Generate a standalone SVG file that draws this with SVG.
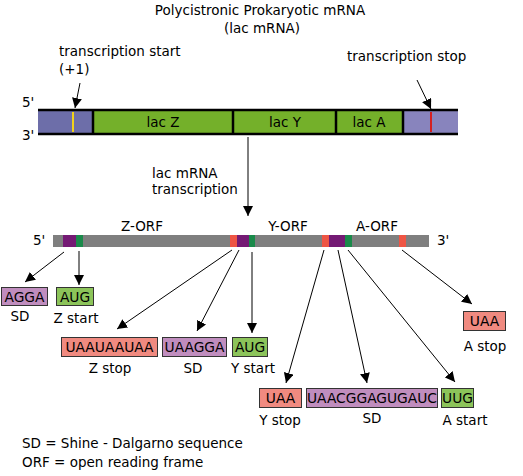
<svg xmlns="http://www.w3.org/2000/svg" width="523" height="476" viewBox="0 0 523 476">
<defs>
<style>
text{font-family:"DejaVu Sans","Liberation Sans",Arial,sans-serif;font-size:13.5px;fill:#000}
.c{text-anchor:middle}
.bx{font-size:13.8px}
.ln{stroke:#000;stroke-width:1;fill:none}
.red{fill:#f08a80;stroke:#333;stroke-width:1}
.pur{fill:#c08dbe;stroke:#333;stroke-width:1}
.grn{fill:#8cc45a;stroke:#333;stroke-width:1}
</style>
<marker id="ah" viewBox="0 0 10 10" refX="10" refY="5" markerWidth="10" markerHeight="10" markerUnits="userSpaceOnUse" orient="auto">
<path d="M0,0 L10,5 L0,10 z" fill="#000"/>
</marker>
</defs>
<rect width="523" height="476" fill="#fff"/>

<g id="title">
<text class="c" x="260" y="15">Polycistronic Prokaryotic mRNA</text>
<text class="c" x="262" y="33">(lac mRNA)</text>
</g>

<g id="dna">
<rect x="38" y="110" width="55" height="24" fill="#6d6ea9"/>
<rect x="93" y="110" width="140" height="24" fill="#74b02a"/>
<rect x="233" y="110" width="103" height="24" fill="#74b02a"/>
<rect x="336" y="110" width="67" height="24" fill="#74b02a"/>
<rect x="403" y="110" width="55" height="24" fill="#8884bd"/>
<line x1="38" y1="110" x2="458" y2="110" stroke="#000" stroke-width="2.5"/>
<line x1="38" y1="134" x2="458" y2="134" stroke="#000" stroke-width="2.5"/>
<line x1="93" y1="110" x2="93" y2="134" stroke="#000" stroke-width="2.5"/>
<line x1="233" y1="110" x2="233" y2="134" stroke="#000" stroke-width="2.5"/>
<line x1="336" y1="110" x2="336" y2="134" stroke="#000" stroke-width="2.5"/>
<line x1="403" y1="110" x2="403" y2="134" stroke="#000" stroke-width="2.5"/>
<line x1="73" y1="112" x2="73" y2="132" stroke="#f2d21a" stroke-width="2"/>
<line x1="431" y1="112" x2="431" y2="132" stroke="#d42020" stroke-width="2"/>
<text class="c" x="163" y="127">lac Z</text>
<text class="c" x="285" y="127">lac Y</text>
<text class="c" x="369" y="127">lac A</text>
<text x="22" y="107">5'</text>
<text x="22" y="140">3'</text>
</g>

<g id="tx-start">
<text x="59" y="56">transcription start</text>
<text x="59" y="74">(+1)</text>
</g>
<g id="tx-stop">
<text x="347" y="61">transcription stop</text>
</g>
<g id="tx-label">
<text x="152" y="178">lac mRNA</text>
<text x="152" y="194">transcription</text>
</g>

<g id="mrna">
<rect x="53" y="235" width="376" height="12" fill="#7f7f7f"/>
<rect x="63" y="235" width="13" height="12" fill="#741a74"/>
<rect x="76" y="235" width="7" height="12" fill="#1a8a4a"/>
<rect x="230" y="235" width="7" height="12" fill="#ee5544"/>
<rect x="237" y="235" width="12" height="12" fill="#741a74"/>
<rect x="249" y="235" width="6" height="12" fill="#1a8a4a"/>
<rect x="322" y="235" width="7" height="12" fill="#ee5544"/>
<rect x="329" y="235" width="16" height="12" fill="#741a74"/>
<rect x="345" y="235" width="7" height="12" fill="#1a8a4a"/>
<rect x="399" y="235" width="7" height="12" fill="#ee5544"/>
<text x="33" y="245">5'</text>
<text x="437" y="245">3'</text>
<text class="c" x="142" y="231">Z-ORF</text>
<text class="c" x="288" y="231">Y-ORF</text>
<text class="c" x="377" y="231">A-ORF</text>
</g>

<g id="connectors">
<line class="ln" x1="80" y1="83" x2="75" y2="108" marker-end="url(#ah)"/>
<line class="ln" x1="417" y1="80" x2="431" y2="109" marker-end="url(#ah)"/>
<line class="ln" x1="248" y1="137" x2="248" y2="216" marker-end="url(#ah)"/>
<line class="ln" x1="64" y1="252" x2="25" y2="282" marker-end="url(#ah)"/>
<line class="ln" x1="79" y1="251" x2="79" y2="285" marker-end="url(#ah)"/>
<line class="ln" x1="232" y1="250" x2="117" y2="329" marker-end="url(#ah)"/>
<line class="ln" x1="239" y1="250" x2="197" y2="331" marker-end="url(#ah)"/>
<line class="ln" x1="252" y1="252" x2="252" y2="333" marker-end="url(#ah)"/>
<line class="ln" x1="324" y1="250" x2="286" y2="383" marker-end="url(#ah)"/>
<line class="ln" x1="338" y1="250" x2="367" y2="383" marker-end="url(#ah)"/>
<line class="ln" x1="348" y1="250" x2="455" y2="382" marker-end="url(#ah)"/>
<line class="ln" x1="402" y1="250" x2="472" y2="304" marker-end="url(#ah)"/>
</g>

<g id="box-agga">
<rect class="pur" x="1.5" y="287.5" width="46" height="18"/>
<text class="c bx" x="24.5" y="302">AGGA</text>
<text class="c" x="20" y="321">SD</text>
</g>
<g id="box-zstart">
<rect class="grn" x="56.5" y="287.5" width="37" height="18"/>
<text class="c bx" x="75" y="302">AUG</text>
<text class="c" x="76" y="323">Z start</text>
</g>
<g id="box-zstop">
<rect class="red" x="61.5" y="337.5" width="96" height="19"/>
<text class="c bx" x="109.5" y="352">UAAUAAUAA</text>
<text class="c" x="110" y="373">Z stop</text>
</g>
<g id="box-sd2">
<rect class="pur" x="162.5" y="337.5" width="64" height="19"/>
<text class="c bx" x="194.5" y="352">UAAGGA</text>
<text class="c" x="193" y="373">SD</text>
</g>
<g id="box-ystart">
<rect class="grn" x="232.5" y="337.5" width="35" height="19"/>
<text class="c bx" x="250" y="352">AUG</text>
<text class="c" x="253" y="373">Y start</text>
</g>
<g id="box-ystop">
<rect class="red" x="259.5" y="388.5" width="42" height="19"/>
<text class="c bx" x="280.5" y="403">UAA</text>
<text class="c" x="280" y="425">Y stop</text>
</g>
<g id="box-sd3">
<rect class="pur" x="306.5" y="388.5" width="131" height="19"/>
<text class="c bx" x="372" y="403">UAACGGAGUGAUC</text>
<text class="c" x="372" y="423">SD</text>
</g>
<g id="box-astart">
<rect class="grn" x="441.5" y="388.5" width="32" height="19"/>
<text class="c bx" x="457.5" y="403">UUG</text>
<text class="c" x="465" y="425">A start</text>
</g>
<g id="box-astop">
<rect class="red" x="463.5" y="311.5" width="42" height="19"/>
<text class="c bx" x="484.5" y="326">UAA</text>
<text class="c" x="485" y="351">A stop</text>
</g>

<g id="legend">
<text x="22" y="448">SD = Shine - Dalgarno sequence</text>
<text x="22" y="467">ORF = open reading frame</text>
</g>
</svg>
